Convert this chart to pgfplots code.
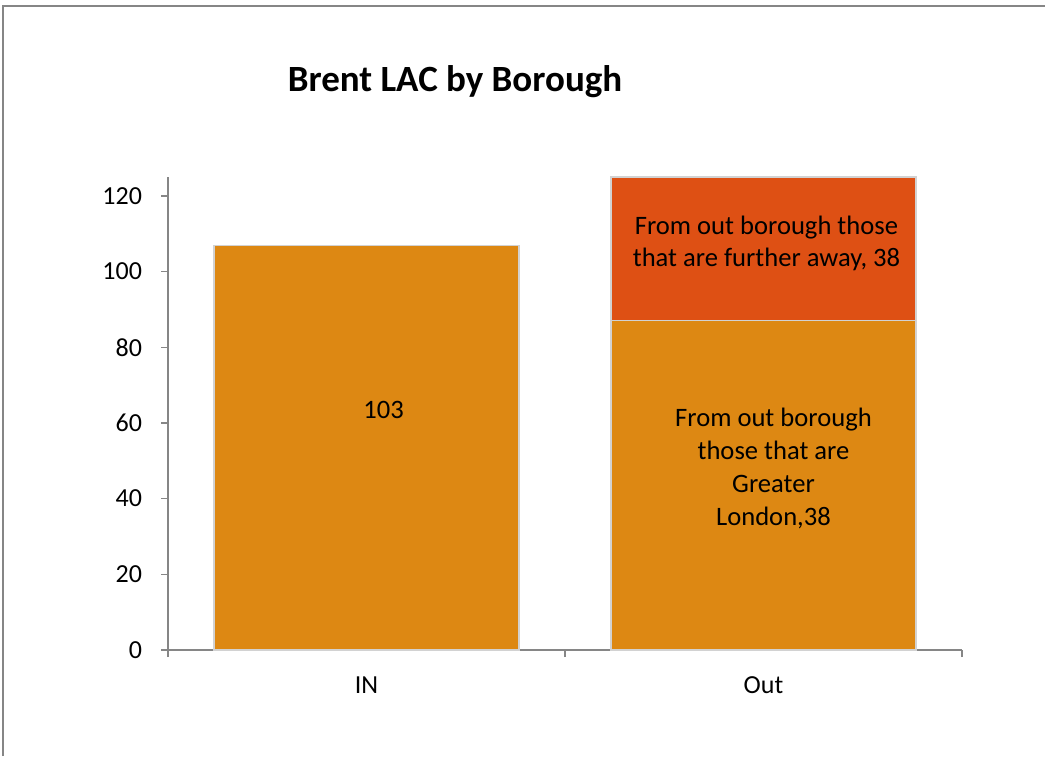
\documentclass[border=0pt]{standalone}
\usepackage{pgfplots}
\pgfplotsset{compat=1.18}
\usepackage{fontspec}
\setmainfont{Carlito}
\definecolor{barorange}{HTML}{DD8813}
\definecolor{barred}{HTML}{DE5014}
\definecolor{axisgray}{HTML}{868686}
\begin{document}
\begin{tikzpicture}
\path[use as bounding box] (0,0) rectangle (522.5pt,378pt);
\draw[axisgray, line width=0.8pt] (1.5pt,0) -- (1.5pt,375pt) -- (522.5pt,375pt);
\node[font=\fontsize{18.5}{22}\selectfont\bfseries] at (227.5pt,337pt) {Brent LAC by Borough};
\begin{axis}[
  at={(84pt,53pt)}, anchor=south west,
  scale only axis, width=397pt, height=236.5pt,
  xmin=0, xmax=2, ymin=0, ymax=125,
  axis x line=bottom, axis y line=left,
  axis line style={axisgray, line width=0.6pt, -},
  every tick/.style={axisgray, line width=0.6pt},
  ytick={0,20,40,60,80,100,120},
  xtick={0,1,2}, xticklabels={},
  tick align=outside, major tick length=3.5pt,
  extra x ticks={0.5,1.5}, extra x tick labels={IN,Out},
  extra x tick style={major tick length=0pt, tick label style={yshift=-10pt}},
  tick label style={font=\fontsize{13}{15}\selectfont, text=black},
  yticklabel style={xshift=-6pt},
  /pgf/number format/assume math mode=true,
  ybar stacked, bar width=152.5pt,
  clip=false,
]
\addplot[fill=barorange, draw=gray!35, line width=0.6pt] coordinates {(0.5,107) (1.5,87)};
\addplot[fill=barred, draw=gray!35, line width=0.6pt] coordinates {(0.5,0) (1.5,38)};
\coordinate (l1) at (axis cs:0.5,63.5);
\coordinate (l2) at (axis cs:1.5,107.5);
\coordinate (l3) at (axis cs:1.5,48);
\end{axis}
\node[font=\fontsize{13.3}{16}\selectfont, xshift=8.5pt] at (l1) {103};
\node[font=\fontsize{13.3}{16}\selectfont, align=center, xshift=1.5pt] at (l2) {From out borough those\\that are further away, 38};
\node[font=\fontsize{13.3}{16.5}\selectfont, align=center, xshift=5pt] at (l3) {From out borough\\those that are\\Greater\\London,38};
\end{tikzpicture}
\end{document}
